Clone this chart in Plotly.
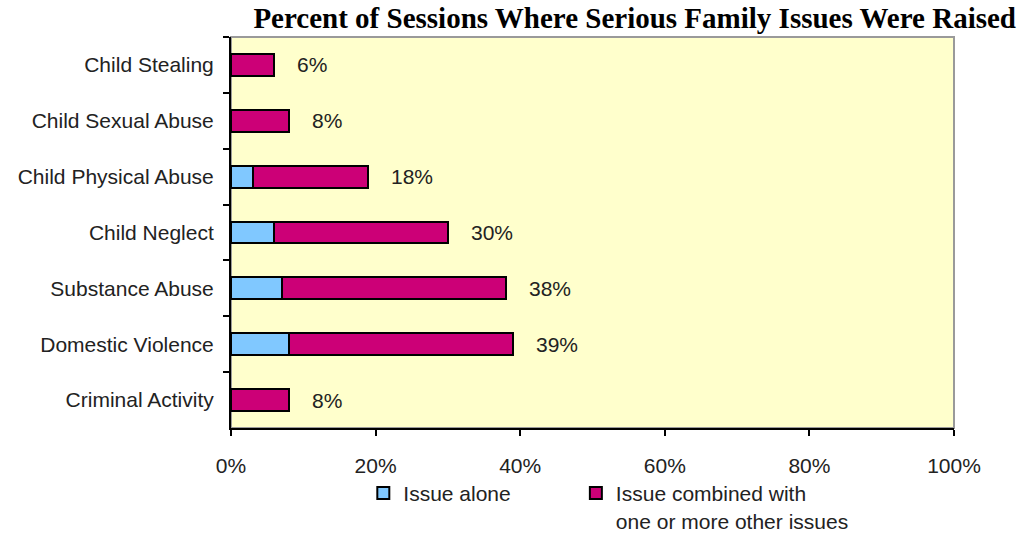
import plotly.graph_objects as go

categories = ["Child Stealing", "Child Sexual Abuse", "Child Physical Abuse",
              "Child Neglect", "Substance Abuse", "Domestic Violence", "Criminal Activity"]
issue_alone = [0, 0, 3, 6, 7, 8, 0]
issue_combined = [6, 8, 16, 24, 31, 31, 8]
total_labels = ["6%", "8%", "18%", "30%", "38%", "39%", "8%"]
x_tickvals = [0, 20, 40, 60, 80, 100]
x_ticktext = ["0%", "20%", "40%", "60%", "80%", "100%"]

BLUE = "#80C8FF"
PINK = "#CC0077"
TXT = "#222222"
FONT = "Liberation Sans, Arial, sans-serif"
FS = 21

fig = go.Figure()
fig.add_trace(go.Bar(y=categories, x=issue_alone, orientation="h", name="Issue alone",
                     legend="legend",
                     marker=dict(color=BLUE, line=dict(color="black", width=2))))
fig.add_trace(go.Bar(y=categories, x=issue_combined, orientation="h",
                     name="Issue combined with<br>one or more other issues",
                     legend="legend2",
                     marker=dict(color=PINK, line=dict(color="black", width=2))))

for c, a, b, lab in zip(categories, issue_alone, issue_combined, total_labels):
    fig.add_annotation(x=a + b, y=c, text=lab, showarrow=False, xanchor="left",
                       xshift=21, font=dict(family=FONT, size=FS, color=TXT))

fig.add_shape(type="rect", xref="paper", yref="paper", x0=0, x1=1, y0=0, y1=1,
              line=dict(color="#9a9a9a", width=2), layer="below")

legend_common = dict(y=-0.115, yanchor="top", valign="top", bgcolor="rgba(0,0,0,0)",
                     font=dict(family=FONT, size=FS, color=TXT))

fig.update_layout(
    width=1024, height=535,
    barmode="stack", bargap=0.61,
    plot_bgcolor="#FFFFCC", paper_bgcolor="white",
    margin=dict(l=231, r=70, t=37, b=107, autoexpand=False),
    title=dict(text="<b>Percent of Sessions Where Serious Family Issues Were Raised</b>",
               x=1016 / 1024, xanchor="right", xref="container",
               y=1 - 18 / 535, yanchor="middle", yref="container",
               font=dict(family="Liberation Serif, Times New Roman, serif", size=29, color="black")),
    font=dict(family=FONT, size=FS, color=TXT),
    xaxis=dict(range=[0, 100], tickvals=x_tickvals, ticktext=x_ticktext, showgrid=False,
               zeroline=False, showline=True, linecolor="black", linewidth=2,
               ticks="outside", ticklen=6, tickwidth=2, tickcolor="black",
               ticklabelstandoff=12, automargin=False,
               tickfont=dict(family=FONT, size=FS, color=TXT)),
    yaxis=dict(categoryorder="array", categoryarray=categories, autorange="reversed",
               showgrid=False, zeroline=False, showline=True, linecolor="black", linewidth=2,
               ticks="outside", tickson="boundaries", ticklen=6, tickwidth=2, tickcolor="black",
               ticklabelstandoff=11, automargin=False,
               tickfont=dict(family=FONT, size=FS, color=TXT)),
    legend=dict(x=0.183, xanchor="left", **legend_common),
    legend2=dict(x=0.477, xanchor="left", **legend_common),
    showlegend=True,
)

fig.write_html("out.html", config={"displayModeBar": False},
               post_script="document.body.style.margin='0';")
